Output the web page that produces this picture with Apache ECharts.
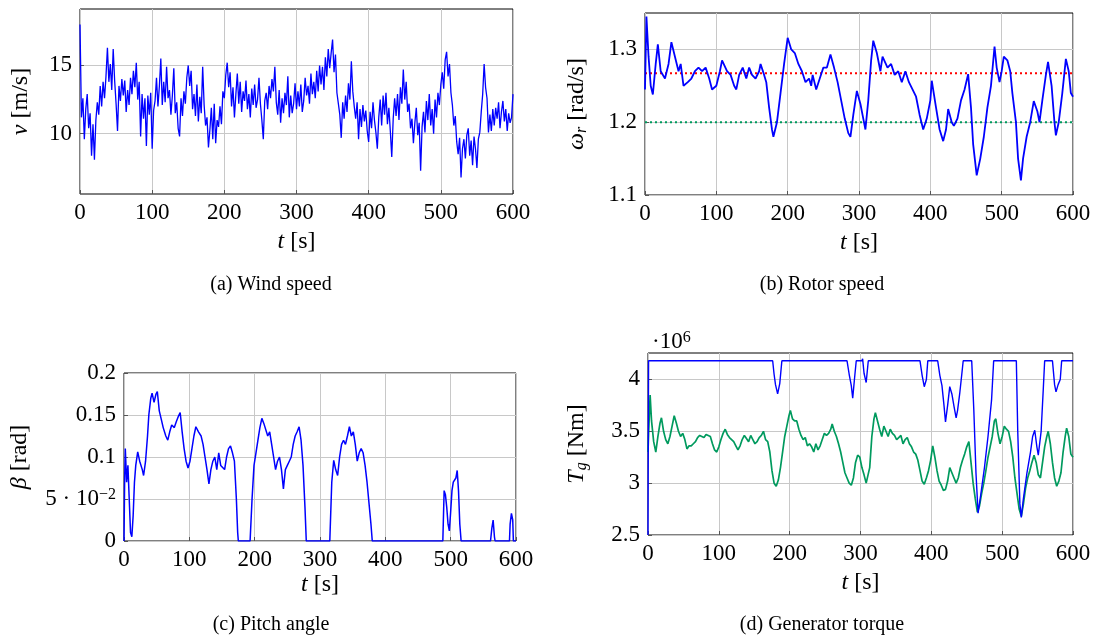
<!DOCTYPE html>
<html><head><meta charset="utf-8">
<script src="https://cdn.jsdelivr.net/npm/echarts@6/dist/echarts.min.js"></script>
<style>html,body{margin:0;padding:0;background:#fff}#c{width:1097px;height:638px}</style>
</head><body><div id="c"></div>
<script>
// ---------------- data ----------------
const X_TICKS = [0, 100, 200, 300, 400, 500, 600];
const WIND_DT = 2; // sampling step of windSpeed [s]
const windSpeed = [
18.0,11.2,12.6,9.6,11.8,12.9,10.4,11.5,8.4,10.7,
8.1,11.0,12.3,11.4,13.5,12.0,13.8,12.6,14.2,16.3,
13.8,15.1,13.2,16.2,13.9,12.2,10.2,13.5,12.4,14.0,
12.8,13.9,11.6,13.2,12.1,14.1,12.9,14.6,13.4,15.2,
12.5,13.8,9.8,12.9,11.1,12.6,9.1,12.8,11.4,13.0,
8.9,11.7,12.4,14.1,12.0,13.5,15.5,12.1,13.8,12.3,
14.9,12.6,13.2,11.4,12.8,14.8,11.5,12.3,10.4,9.8,
12.6,11.3,13.1,12.2,14.1,15.0,13.5,14.6,11.8,12.9,
11.3,13.6,10.9,12.7,11.5,14.9,12.1,10.6,11.2,9.0,
10.3,11.9,9.6,12.2,9.3,11.0,10.5,12.0,10.7,13.1,
12.6,14.3,15.2,13.4,14.5,12.0,13.4,11.2,12.9,14.4,
12.2,13.8,11.6,13.1,12.4,13.9,11.8,12.9,11.2,13.3,
12.1,13.6,11.9,12.5,14.1,12.2,11.0,9.6,12.4,13.0,
11.8,13.5,12.6,14.0,13.1,14.9,12.3,11.4,13.2,10.8,
12.6,11.5,13.0,12.1,14.2,11.2,12.8,11.5,12.2,13.7,
11.8,13.1,12.0,13.6,11.6,12.4,14.1,12.8,13.5,12.2,
14.4,12.9,13.8,12.6,14.6,13.1,15.0,13.6,14.9,13.2,
15.6,14.2,16.2,14.8,15.9,16.9,14.5,15.8,13.0,12.2,
11.4,9.7,12.3,11.1,12.8,11.6,13.7,12.5,15.3,13.1,
12.0,11.1,12.3,9.6,11.8,10.5,12.1,10.9,11.7,10.2,
9.4,11.6,10.4,12.3,11.0,10.1,8.9,11.2,12.5,10.6,
12.8,11.4,13.0,10.7,11.9,10.2,8.3,11.1,12.6,11.3,
12.9,11.0,13.4,12.2,14.7,12.5,13.8,11.6,12.2,10.4,
11.1,9.3,10.8,11.9,9.9,10.8,7.3,10.5,11.6,10.1,
12.4,11.0,12.9,10.6,11.8,10.0,12.5,11.2,13.0,12.1,
13.6,14.5,13.3,15.4,16.0,14.2,15.1,13.0,12.1,10.6,
11.3,9.4,8.5,9.7,6.8,8.9,9.6,8.2,9.9,10.4,
8.4,9.5,7.7,9.8,8.9,7.5,9.6,10.1,11.6,12.9,
15.1,13.4,12.6,10.1,11.4,10.2,11.8,10.6,11.9,11.1,
12.3,10.4,11.6,12.4,10.9,11.8,10.2,11.5,10.8,11.2,
12.9];

const rotorT = [0,2,5,8,11,15,18,22,28,33,37,42,47,50,54,60,65,70,75,80,85,90,94,100,105,108,115,120,125,128,132,137,142,146,150,155,160,162,167,170,174,178,180,185,190,195,200,205,210,215,220,225,230,233,235,240,245,250,255,260,265,270,275,280,285,288,292,297,302,306,309,313,317,320,325,330,333,340,345,350,355,360,365,370,375,380,385,390,395,400,402,408,413,418,422,425,430,433,438,443,448,453,457,460,465,470,475,480,485,490,493,497,500,503,508,512,515,520,523,527,530,535,540,545,550,553,557,562,565,570,574,576,580,585,590,594,597,600];
const rotorW = [1.245,1.345,1.29,1.25,1.238,1.28,1.307,1.27,1.26,1.28,1.31,1.29,1.27,1.28,1.25,1.255,1.26,1.27,1.275,1.27,1.275,1.26,1.245,1.25,1.27,1.285,1.27,1.265,1.25,1.245,1.265,1.275,1.26,1.275,1.265,1.26,1.27,1.28,1.265,1.255,1.22,1.19,1.18,1.2,1.24,1.28,1.316,1.30,1.295,1.28,1.27,1.255,1.26,1.25,1.265,1.245,1.26,1.275,1.275,1.293,1.275,1.255,1.23,1.205,1.185,1.18,1.21,1.243,1.225,1.205,1.19,1.23,1.285,1.312,1.295,1.27,1.29,1.275,1.28,1.265,1.27,1.255,1.27,1.255,1.245,1.235,1.21,1.19,1.205,1.23,1.257,1.22,1.19,1.174,1.19,1.218,1.2,1.195,1.205,1.23,1.245,1.266,1.22,1.17,1.127,1.15,1.18,1.22,1.25,1.304,1.275,1.255,1.27,1.29,1.285,1.27,1.24,1.20,1.15,1.12,1.15,1.18,1.2,1.229,1.215,1.2,1.23,1.265,1.283,1.25,1.2,1.182,1.2,1.24,1.287,1.27,1.24,1.235];
const rotorRated = 1.2671;   // red dotted reference
const rotorLower = 1.2;      // green dotted reference

const pitchT = [0,1,2,4,6,8,10,12,14,16,18,21,24,28,30,33,36,38,41,43,46,49,51,54,57,60,64,67,70,73,77,80,83,86,89,92,95,98,101,104,107,110,114,118,121,124,127,130,133,136,139,142,145,148,151,154,157,160,163,166,169,172,174,175,193,196,199,202,205,208,211,214,217,220,223,226,229,232,235,238,241,244,247,250,253,256,259,262,265,268,271,274,277,279,315,318,321,324,327,330,333,336,339,342,345,348,351,354,357,360,363,366,369,372,375,378,380,488,490,492,494,496,498,500,502,504,506,508,510,512,514,516,561,563,565,567,568,590,591,593,595,596,600];
const pitchB = [0,0.075,0.11,0.07,0.09,0.05,0.01,0.005,0.03,0.07,0.09,0.106,0.095,0.085,0.078,0.095,0.125,0.15,0.17,0.176,0.165,0.175,0.178,0.155,0.145,0.135,0.125,0.12,0.13,0.138,0.135,0.142,0.148,0.153,0.13,0.11,0.095,0.087,0.095,0.11,0.125,0.136,0.13,0.125,0.115,0.1,0.085,0.068,0.085,0.095,0.1,0.085,0.105,0.09,0.09,0.085,0.1,0.11,0.113,0.105,0.095,0.05,0.01,0,0,0.05,0.09,0.105,0.12,0.135,0.146,0.14,0.14,0.125,0.13,0.115,0.1,0.085,0.095,0.1,0.085,0.062,0.085,0.09,0.095,0.1,0.115,0.125,0.13,0.136,0.12,0.09,0.04,0,0,0.07,0.096,0.085,0.078,0.1,0.115,0.12,0.115,0.125,0.136,0.125,0.13,0.115,0.095,0.105,0.11,0.105,0.09,0.07,0.045,0.02,0,0,0.06,0.055,0.04,0.02,0.012,0.035,0.06,0.07,0.068,0.075,0.084,0.06,0.02,0,0,0.015,0.025,0.005,0,0,0.02,0.033,0.025,0,0];

// generator torque, in units of 1e6 Nm
const torqueRefT = [0,0.8,176,178,180,183,186,189,281,284,287,289,292,294,302,303,305,308,311,384,387,390,393,395,409,412,415,418,420,423,426,429,432,435,437,440,443,445,457,460,463,466,470,475,480,485,488,520,522,525,527,530,535,540,543,546,549,551,555,558,560,571,574,576,579,582,584,600];
const torqueRef = [2.5,4.18,4.18,4.05,3.95,3.86,3.96,4.18,4.18,4.05,3.94,3.82,4.04,4.18,4.18,4.2,4.06,3.97,4.18,4.18,4.04,3.93,4.0,4.18,4.18,4.04,3.94,3.74,3.59,3.75,3.93,3.86,3.74,3.63,3.7,3.86,4.05,4.18,4.18,3.7,3.1,2.71,2.9,3.15,3.45,3.8,4.18,4.18,3.5,2.8,2.67,2.85,3.1,3.3,3.45,3.51,3.35,3.27,3.5,3.9,4.18,4.18,3.95,3.88,3.95,4.0,4.18,4.18];
const torqueOptT = [0,1,3,5,8,11,14,17,19,22,25,28,31,34,37,40,43,46,49,52,55,58,61,64,67,70,73,76,79,82,85,88,91,94,97,100,103,106,109,112,115,118,121,124,127,130,133,136,139,142,145,148,151,154,157,160,163,166,169,172,175,178,181,184,187,190,193,196,199,201,204,207,210,213,216,219,222,225,228,231,234,237,240,243,246,249,252,255,258,260,263,266,269,272,275,278,281,284,287,290,293,296,299,302,305,308,310,313,316,319,321,324,327,330,333,336,339,342,345,348,351,354,357,360,363,366,369,372,375,378,381,384,387,390,393,396,399,402,405,408,411,414,417,420,423,426,429,432,435,438,441,444,447,450,453,456,459,462,465,468,471,474,477,480,483,486,489,491,494,497,500,503,506,509,512,515,518,521,524,527,530,533,536,539,542,545,548,551,554,557,560,563,565,568,571,574,577,580,583,586,589,591,594,597,600];
const torqueOpt = [3.3,3.5,3.85,3.6,3.4,3.3,3.45,3.58,3.63,3.5,3.42,3.38,3.45,3.55,3.65,3.58,3.5,3.45,3.48,3.42,3.33,3.36,3.36,3.38,3.4,3.44,3.46,3.45,3.44,3.47,3.46,3.45,3.38,3.32,3.3,3.35,3.42,3.48,3.52,3.47,3.44,3.42,3.4,3.36,3.32,3.36,3.42,3.46,3.43,3.4,3.46,3.42,3.38,3.4,3.44,3.46,3.5,3.42,3.4,3.3,3.12,3.0,2.97,3.03,3.15,3.3,3.45,3.55,3.65,3.7,3.62,3.6,3.6,3.52,3.46,3.42,3.44,3.36,3.38,3.35,3.3,3.38,3.32,3.36,3.42,3.48,3.46,3.48,3.52,3.57,3.5,3.45,3.38,3.3,3.2,3.1,3.05,3.0,2.98,3.05,3.2,3.27,3.25,3.15,3.08,3.0,3.0,3.15,3.45,3.62,3.68,3.6,3.52,3.45,3.55,3.5,3.45,3.52,3.48,3.46,3.42,3.44,3.46,3.38,3.42,3.44,3.38,3.35,3.3,3.28,3.22,3.12,3.02,2.99,3.05,3.12,3.22,3.36,3.25,3.12,3.02,2.98,2.93,2.94,3.02,3.15,3.1,3.05,3.0,3.05,3.15,3.22,3.28,3.35,3.4,3.2,3.0,2.85,2.72,2.78,2.9,3.0,3.12,3.25,3.35,3.45,3.6,3.62,3.48,3.38,3.45,3.55,3.52,3.5,3.4,3.25,3.05,2.9,2.75,2.68,2.8,2.95,3.05,3.12,3.2,3.27,3.2,3.08,3.05,3.2,3.35,3.45,3.5,3.38,3.2,3.05,2.97,3.02,3.1,3.3,3.45,3.53,3.45,3.28,3.25];

const Y_TICKS_A = [10, 15];
const Y_TICKS_B = [1.1, 1.2, 1.3];
const Y_TICKS_C = [0, 0.05, 0.1, 0.15, 0.2];
const Y_TICKS_D = [2.5, 3, 3.5, 4];
const Y_RANGE_A = [5.59, 19.13];
const Y_RANGE_B = [1.1, 1.35];
const Y_RANGE_C = [0, 0.2];
const Y_RANGE_D = [2.5, 4.255];

const CAPTIONS = ['(a) Wind speed', '(b) Rotor speed', '(c) Pitch angle', '(d) Generator torque'];

// ---------------- chart ----------------
const FONT = '"Liberation Serif", "DejaVu Serif", serif';
const BLUE = '#0000ff';
const GREEN = '#009a5e';
const RED = '#ff0000';

function pairs(t, v) { const out = []; const n = Math.min(t.length, v.length); for (let i = 0; i < n; i++) out.push([t[i], v[i]]); return out; }
const windData = windSpeed.map((v, i) => [i * WIND_DT, v]);

const tickStyle = { fontFamily: FONT, fontSize: 23, color: '#000' };
const itRich = { i: { fontFamily: FONT, fontSize: 24, fontStyle: 'italic', color: '#000' },
                 s: { fontFamily: FONT, fontSize: 16, fontStyle: 'italic', color: '#000', verticalAlign: 'bottom', padding: [10, 0, 0, 0] } };
const nameStyle = { fontFamily: FONT, fontSize: 24, color: '#000', rich: itRich };

const grids = [
  { left: 80, top: 9, width: 433, height: 185 },
  { left: 645, top: 13, width: 428, height: 182 },
  { left: 124, top: 373, width: 392, height: 168 },
  { left: 648, top: 353, width: 425, height: 182 }
].map(g => Object.assign({ show: true, borderColor: '#000', borderWidth: 1, backgroundColor: 'transparent', containLabel: false }, g));

function xAxis(i, gap) {
  return {
    type: 'value', gridIndex: i, min: 0, max: 600, interval: 100,
    axisLine: { show: false },
    axisTick: { show: true, inside: true, length: 4, lineStyle: { color: '#555' } },
    axisLabel: Object.assign({ margin: 7 }, tickStyle),
    splitLine: { show: true, lineStyle: { color: '#c8c8c8', width: 1 } },
    name: '{i|t} [s]', nameLocation: 'middle', nameGap: gap, nameTextStyle: nameStyle
  };
}
function yAxis(i, range, ticks, name, gap, fmt) {
  return {
    type: 'value', gridIndex: i, min: range[0], max: range[1],
    axisLine: { show: false },
    axisTick: { show: true, inside: true, length: 4, customValues: ticks, lineStyle: { color: '#555' } },
    axisLabel: Object.assign({ margin: 8, customValues: ticks, formatter: fmt || (v => String(v)), rich: { sup: { fontFamily: FONT, fontSize: 16, color: '#000', verticalAlign: 'top', padding: [0, 0, 8, 0] } } }, tickStyle),
    splitLine: { show: true, lineStyle: { color: '#c8c8c8', width: 1 } },
    name: name, nameLocation: 'middle', nameRotate: 90, nameGap: gap, nameTextStyle: nameStyle
  };
}

function line(i, data, color, width, extra) {
  return Object.assign({ type: 'line', xAxisIndex: i, yAxisIndex: i, data: data, showSymbol: false, symbol: 'none',
    lineStyle: { color: color, width: width }, itemStyle: { color: color }, animation: false, silent: true, clip: true }, extra || {});
}

const option = {
  backgroundColor: '#fff',
  animation: false,
  grid: grids,
  xAxis: [xAxis(0, 36), xAxis(1, 36), xAxis(2, 32), xAxis(3, 36)],
  yAxis: [
    yAxis(0, Y_RANGE_A, Y_TICKS_A, '{i|v} [m/s]', 47),
    yAxis(1, Y_RANGE_B, Y_TICKS_B, '{i|ω}{s|r} [rad/s]', 55),
    yAxis(2, Y_RANGE_C, Y_TICKS_C, '{i|β} [rad]', 92, v => (Math.abs(v - 0.05) < 1e-9 ? '5 · 10{sup|−2}' : String(v))),
    yAxis(3, Y_RANGE_D, Y_TICKS_D, '{i|T}{s|g} [Nm]', 58)
  ],
  series: [
    line(0, windData, BLUE, 1.3),
    line(1, [[0, rotorRated], [600, rotorRated]], RED, 2, { lineStyle: { color: RED, width: 2, type: [2, 3] } }),
    line(1, [[0, rotorLower], [600, rotorLower]], GREEN, 2, { lineStyle: { color: GREEN, width: 2, type: [2, 3] } }),
    line(1, pairs(rotorT, rotorW), BLUE, 1.8),
    line(2, pairs(pitchT, pitchB), BLUE, 1.5),
    line(3, pairs(torqueOptT, torqueOpt), GREEN, 1.7),
    line(3, pairs(torqueRefT, torqueRef), BLUE, 1.4)
  ],
  graphic: [
    { type: 'text', x: 271, y: 285, style: { text: CAPTIONS[0], font: '20px ' + FONT, fill: '#000', align: 'center', verticalAlign: 'middle' } },
    { type: 'text', x: 822, y: 285, style: { text: CAPTIONS[1], font: '20px ' + FONT, fill: '#000', align: 'center', verticalAlign: 'middle' } },
    { type: 'text', x: 271, y: 625, style: { text: CAPTIONS[2], font: '20px ' + FONT, fill: '#000', align: 'center', verticalAlign: 'middle' } },
    { type: 'text', x: 822, y: 625, style: { text: CAPTIONS[3], font: '20px ' + FONT, fill: '#000', align: 'center', verticalAlign: 'middle' } },
    { type: 'text', x: 652, y: 342, style: { text: '·10{sup|6}', font: '23px ' + FONT, fill: '#000', align: 'left', verticalAlign: 'middle',
        rich: { sup: { fontFamily: FONT, fontSize: 16, fill: '#000', verticalAlign: 'top', padding: [0, 0, 8, 0] } } } }
  ]
};

const chart = echarts.init(document.getElementById('c'), null, { renderer: 'canvas' });
chart.setOption(option);
</script>
</body></html>
